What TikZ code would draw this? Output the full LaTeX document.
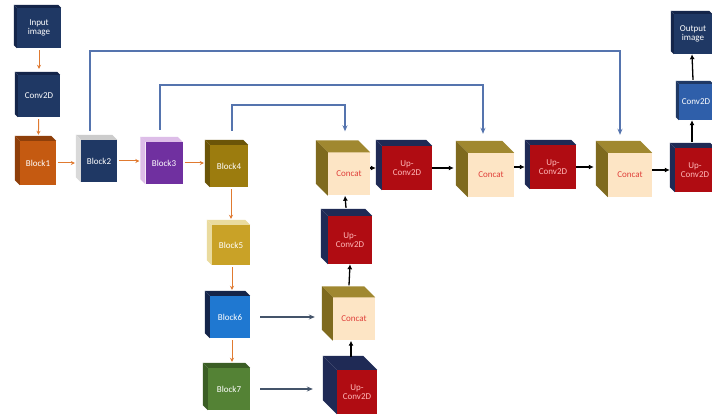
\documentclass[tikz,border=0pt]{standalone}
\usepackage{fontspec}
\setmainfont{Carlito}
\usetikzlibrary{calc,arrows.meta}
\definecolor{navy}{HTML}{1F3864}
\definecolor{navyside}{HTML}{14254A}
\definecolor{orng}{HTML}{C55A11}
\definecolor{orngside}{HTML}{8F3F0A}
\definecolor{purp}{HTML}{7030A0}
\definecolor{purpside}{HTML}{DDBDE8}
\definecolor{olv}{HTML}{9C7C0E}
\definecolor{olvside}{HTML}{6B5508}
\definecolor{gold}{HTML}{C9A227}
\definecolor{goldside}{HTML}{EADB9E}
\definecolor{sky}{HTML}{1F78D1}
\definecolor{grn}{HTML}{548235}
\definecolor{grnside}{HTML}{3B5E25}
\definecolor{cream}{HTML}{FDE5C5}
\definecolor{cattop}{HTML}{A08830}
\definecolor{catside}{HTML}{7F6A1E}
\definecolor{upred}{HTML}{B00C12}
\definecolor{upside}{HTML}{1F2A55}
\definecolor{convblue}{HTML}{2F5FAA}
\definecolor{skipblue}{HTML}{5574AE}
\definecolor{flowgray}{HTML}{44546A}
\definecolor{catred}{HTML}{E0403A}
\definecolor{uptext}{HTML}{FFB8B8}
\definecolor{orarrow}{HTML}{E07A30}
% top and side faces of a box: node, depth, top colour, side colour
\newcommand{\boxfaces}[4]{%
  \fill[#3] (#1.north west) -- ++(-#2,-#2) -- ($(#1.north east)+(-#2,-#2)$)
    -- (#1.north east) -- cycle;
  \fill[#4] (#1.north west) -- ++(-#2,-#2) -- ($(#1.south west)+(-#2,-#2)$)
    -- (#1.south west) -- cycle;}

\begin{document}
\begin{tikzpicture}[x=1pt,y=-1pt,
  box/.style={inner sep=1pt, align=center, text=white,
    font=\fontsize{9}{9.5}\selectfont},
  cat/.style={box, fill=cream, text=catred, minimum width=#1, minimum height=43pt},
  up/.style={box, fill=upred, text=uptext, minimum width=#1, minimum height=44pt},
  oflow/.style={-{Stealth[length=4pt,width=4pt]}, orarrow, line width=1pt,
    shorten <=2pt, shorten >=6pt},
  kflow/.style={-{Latex[length=5pt,width=5pt]}, black, line width=1.3pt},
  gflow/.style={-{Stealth[length=6pt,width=5pt]}, flowgray, line width=1.4pt},
  skip/.style={-{Stealth[length=6pt,width=5pt]}, skipblue, line width=1.6pt}]
\useasboundingbox[fill=white] (0,0) rectangle (712,419);

% encoder
\node[box, fill=navy, minimum width=44pt, minimum height=40pt] (in) at (39,28) {Input\\image};
\node[box, fill=navy, minimum width=42pt, minimum height=42pt] (conv) at (39,96) {Conv2D};
\node[box, fill=orng, minimum width=36pt, minimum height=44pt] (b1) at (38,163) {Block1};
\node[box, fill=navy, minimum width=36pt, minimum height=42pt] (b2) at (99,161) {Block2};
\node[box, fill=purp, minimum width=37pt, minimum height=42pt] (b3) at (164,163) {Block3};
\node[box, fill=olv, minimum width=38pt, minimum height=42pt] (b4) at (229,166) {Block4};
\node[box, fill=gold, minimum width=38pt, minimum height=40pt] (b5) at (231,245) {Block5};
\node[box, fill=sky, minimum width=40pt, minimum height=42pt] (b6) at (230,317) {Block6};
\node[box, fill=grn, minimum width=42pt, minimum height=42pt] (b7) at (229,389) {Block7};
\boxfaces{in}{3}{navyside}{navyside}
\boxfaces{conv}{3}{navyside}{navyside}
\boxfaces{b1}{5}{orngside}{orngside}
\boxfaces{b2}{5}{gray!40}{gray!30}
\boxfaces{b3}{5}{purpside}{purpside}
\boxfaces{b4}{5}{olvside}{olvside}
\boxfaces{b5}{5}{goldside}{goldside}
\boxfaces{b6}{5}{navyside}{navyside}
\boxfaces{b7}{5}{grnside}{grnside}

% decoder
\node[up=40pt] (upa) at (357,392) {Up-\\Conv2D};
\node[cat=42pt] (cat2) at (354,319) {Concat};
\node[up=44pt, minimum height=48pt] (upb) at (350,240) {Up-\\Conv2D};
\node[cat=42pt] (cat1) at (349,174) {Concat};
\node[up=50pt] (upc) at (407,168) {Up-\\Conv2D};
\node[cat=46pt, minimum height=44pt] (cat3) at (491,175) {Concat};
\node[up=46pt] (upd) at (553,167) {Up-\\Conv2D};
\node[cat=44pt, minimum height=44pt] (cat4) at (630,175) {Concat};
\node[up=40pt] (upe) at (695,170) {Up-\\Conv2D};
\node[box, fill=convblue, minimum width=34pt, minimum height=36pt] (convr) at (696,102) {Conv2D};
\node[box, fill=navy, minimum width=38pt, minimum height=40pt] (out) at (693,34) {Output\\image};
\boxfaces{upa}{14}{upside}{upside}
\boxfaces{cat2}{11}{cattop}{catside}
\boxfaces{upb}{7}{upside}{upside}
\boxfaces{cat1}{12}{cattop}{catside}
\boxfaces{upc}{6}{upside}{upside}
\boxfaces{cat3}{12}{cattop}{catside}
\boxfaces{upd}{5}{upside}{upside}
\boxfaces{cat4}{12}{cattop}{catside}
\boxfaces{upe}{5}{upside}{upside}
\boxfaces{convr}{3}{navy}{navy}
\boxfaces{out}{3}{navyside}{navyside}

% encoder path
\draw[oflow] (in) -- (conv);
\draw[oflow] (conv) -- (b1);
\draw[oflow] (b1.east) -- (b1.east -| b2.west);
\draw[oflow] (b2.east) -- (b2.east -| b3.west);
\draw[oflow] (b3.east) -- (b3.east -| b4.west);
\draw[oflow] ($(b4.south)+(2,0)$) -- ($(b5.north)+(0,0)$);
\draw[oflow] ($(b5.south)+(1,0)$) -- ($(b6.north)+(2,0)$);
\draw[oflow] ($(b6.south)+(2,0)$) -- ($(b7.north)+(3,0)$);

% into decoder
\draw[gflow, shorten <=10pt] (b6.east) -- ($(b6.east -| cat2.west)+(-18,0)$);
\draw[gflow, shorten <=10pt] (b7.east) -- ($(b7.east -| upa.west)+(-24,0)$);
\draw[kflow] ($(upa.north)+(-6,-13)$) -- ($(cat2.south)+(-3,0)$);
\draw[kflow] ($(cat2.north)+(-5,-12)$) -- (upb.south);
\draw[kflow] ($(upb.north)+(-4,-8)$) -- ($(cat1.south)+(-4,0)$);
\draw[kflow] (cat1.east |- upc.west) -- ($(upc.west)+(-6,0)$);
\draw[kflow] (upc.east) -- ($(upc.east -| cat3.west)+(-14,0)$);
\draw[kflow] (cat3.east |- upd.west) -- ($(upd.west)+(-5,0)$);
\draw[kflow] (upd.east) -- ($(upd.east -| cat4.west)+(-14,0)$);
\draw[kflow] (cat4.east |- upe.west) -- ($(upe.west)+(-5,0)$);
\draw[kflow] ($(upe.north)+(-3,-6)$) -- ($(convr.south)+(-4,0)$);
\draw[kflow] ($(convr.north)+(-3,-4)$) -- ($(out.south)+(-1,0)$);

% skip connections
\draw[skip] ($(b2.north)+(-9,-9)$) -- ++(0,-80) -| ($(cat4.north)+(-10,-18)$);
\draw[skip] ($(b3.north)+(-4,-12)$) -- ++(0,-45) -| ($(cat3.north)+(-8,-19)$);
\draw[skip] ($(b4.north)+(3,-14)$) -- ++(0,-26) -| ($(cat1.north)+(-4,-21)$);
\end{tikzpicture}
\end{document}
